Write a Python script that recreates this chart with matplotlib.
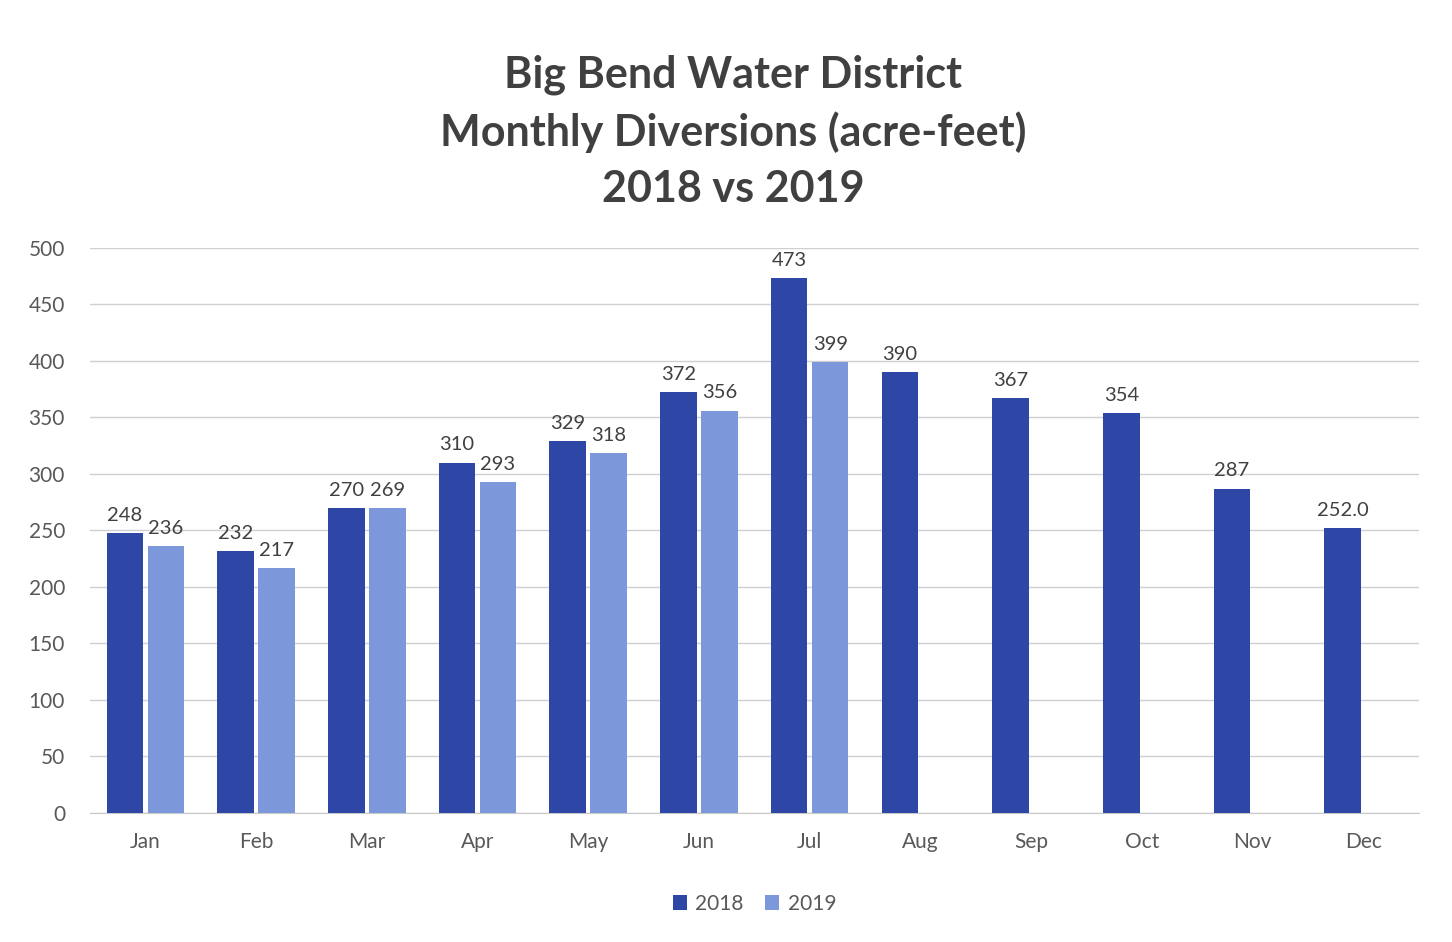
import numpy as np
import matplotlib.pyplot as plt

plt.rcParams['font.family'] = ['Lato', 'DejaVu Sans']

# data
months = ["Jan", "Feb", "Mar", "Apr", "May", "Jun", "Jul", "Aug", "Sep", "Oct", "Nov", "Dec"]
flow_2018 = [248, 232, 270, 310, 329, 372, 473, 390, 367, 354, 287, 252]
flow_2019 = [236, 217, 270, 293, 318, 356, 399]
labels_2018 = ["248", "232", "270", "310", "329", "372", "473", "390", "367", "354", "287", "252.0"]
labels_2019 = ["236", "217", "269", "293", "318", "356", "399"]

c2018 = "#2E47A6"
c2019 = "#7C97DA"

fig = plt.figure(figsize=(14.52, 9.42), dpi=100)
ax = fig.add_axes([0.062, 0.137, 0.915, 0.6])

x = np.arange(len(months))
w = 0.33
gap = 0.02
b1 = ax.bar(x - w / 2 - gap, flow_2018, w, color=c2018, label="2018", zorder=3)
b2 = ax.bar(x[:len(flow_2019)] + w / 2 + gap, flow_2019, w, color=c2019, label="2019", zorder=3)

for rect, lab in zip(b1, labels_2018):
    ax.text(rect.get_x() + rect.get_width() / 2, rect.get_height() + 8, lab,
            ha="center", va="bottom", fontsize=14.5, color="#404040")
for rect, lab in zip(b2, labels_2019):
    ax.text(rect.get_x() + rect.get_width() / 2, rect.get_height() + 8, lab,
            ha="center", va="bottom", fontsize=14.5, color="#404040")

ax.set_ylim(0, 500)
ax.set_xlim(-0.5, 11.5)
ax.set_yticks(range(0, 501, 50))
ax.set_xticks(x)
ax.set_xticklabels(months)
ax.tick_params(axis="both", length=0, labelsize=15, colors="#595959")
ax.tick_params(axis="x", pad=14)
ax.tick_params(axis="y", pad=18)
ax.grid(axis="y", color="#D0D0D0", linewidth=1, zorder=0)
for s in ["top", "right", "left"]:
    ax.spines[s].set_visible(False)
ax.spines["bottom"].set_color("#C8C8C8")

fig.text(0.505, 0.778, "Big Bend Water District\nMonthly Diversions (acre-feet)\n2018 vs 2019",
         ha="center", va="bottom", fontsize=31, fontweight="bold", color="#404040",
         linespacing=1.48)

ax.legend(loc="upper center", bbox_to_anchor=(0.5, -0.11), ncol=2, frameon=False,
          fontsize=15, handlelength=0.7, handleheight=0.7, columnspacing=1.0,
          handletextpad=0.4, labelcolor="#595959")

fig.savefig("out.png", dpi=100)
